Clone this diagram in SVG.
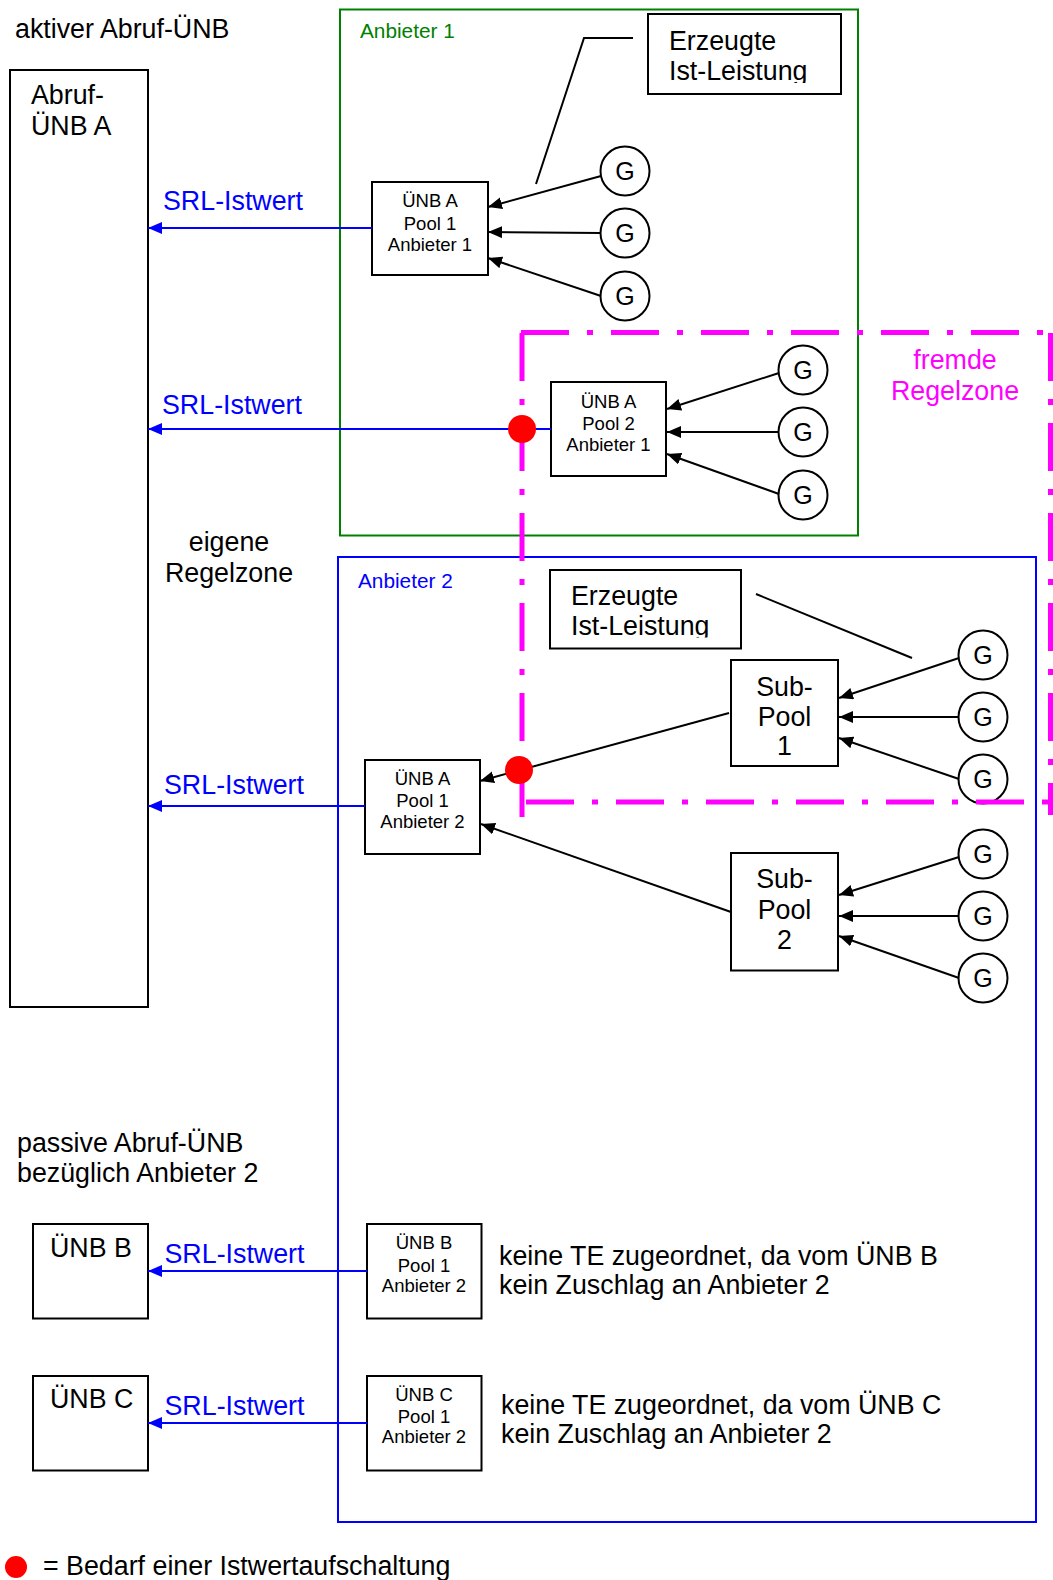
<svg xmlns="http://www.w3.org/2000/svg" width="1053" height="1580" viewBox="0 0 1053 1580">
<style>
text{font-family:"Liberation Sans",Arial,sans-serif;fill:#000}
.big{font-size:26.8px}
.sm{font-size:18.5px}
.lbl{font-size:20.8px}
.g{font-size:25px}
.mid{text-anchor:middle}
.blue{fill:#0000FF}
.box{fill:#fff;stroke:#000;stroke-width:2}
.gc{fill:#fff;stroke:#000;stroke-width:2}
.ln{stroke:#000;stroke-width:2;fill:none}
.arr{stroke:#000;stroke-width:2;fill:none;marker-end:url(#ab)}
.barr{stroke:#0000FF;stroke-width:2;fill:none;marker-end:url(#ablue)}
.mag{stroke:#FF00FF;stroke-width:5;fill:none;stroke-dasharray:48 18 6 18}
.dot{fill:#FF0000}
</style>
<defs>
<marker id="ab" markerUnits="userSpaceOnUse" markerWidth="15" markerHeight="13" refX="14" refY="6" orient="auto"><path d="M0,0 L14,6 L0,12 z" fill="#000"/></marker>
<marker id="ablue" markerUnits="userSpaceOnUse" markerWidth="15" markerHeight="13" refX="14" refY="6" orient="auto"><path d="M0,0 L14,6 L0,12 z" fill="#0000FF"/></marker>
<clipPath id="clip1"><rect x="640" y="10" width="210" height="73"/></clipPath>
<clipPath id="clip2"><rect x="545" y="565" width="200" height="72.5"/></clipPath>
</defs>

<g id="labels">
<text class="big" x="15" y="38">aktiver Abruf-ÜNB</text>
<text class="big mid" x="229" y="551">eigene</text>
<text class="big mid" x="229" y="582">Regelzone</text>
<text class="big" x="17" y="1152">passive Abruf-ÜNB</text>
<text class="big" x="17" y="1182">bezüglich Anbieter 2</text>
<text class="big" x="499" y="1265">keine TE zugeordnet, da vom ÜNB B</text>
<text class="big" x="499" y="1294">kein Zuschlag an Anbieter 2</text>
<text class="big" x="501" y="1414">keine TE zugeordnet, da vom ÜNB C</text>
<text class="big" x="501" y="1443">kein Zuschlag an Anbieter 2</text>
<text class="big" x="955" y="369" style="fill:#FF00FF;text-anchor:middle">fremde</text>
<text class="big" x="955" y="400" style="fill:#FF00FF;text-anchor:middle">Regelzone</text>
</g>

<g id="anbieter1">
<rect x="340" y="9.5" width="518" height="526" fill="none" stroke="#008000" stroke-width="2"/>
<text class="lbl" x="360" y="38" style="fill:#008000">Anbieter 1</text>
</g>
<g id="anbieter2">
<rect x="338" y="557" width="698" height="965" fill="none" stroke="#0000FF" stroke-width="2"/>
<text class="lbl blue" x="358" y="588">Anbieter 2</text>
</g>

<g id="abruf-uenb-a">
<rect class="box" x="10" y="70" width="138" height="937"/>
<text class="big" x="31" y="104">Abruf-</text>
<text class="big" x="31" y="135">ÜNB A</text>
</g>

<g id="erzeugte1">
<rect class="box" x="648" y="14" width="193" height="80"/>
<g clip-path="url(#clip1)">
<text class="big" x="669" y="50">Erzeugte</text>
<text class="big" x="669" y="80">Ist-Leistung</text>
</g>
</g>
<g id="erzeugte2">
<rect class="box" x="550" y="570" width="191" height="78.5"/>
<g clip-path="url(#clip2)">
<text class="big" x="571" y="605">Erzeugte</text>
<text class="big" x="571" y="635">Ist-Leistung</text>
</g>
</g>

<g id="pool1-anb1">
<rect class="box" x="372" y="182" width="116" height="93"/>
<text class="sm mid" x="430" y="207">ÜNB A</text>
<text class="sm mid" x="430" y="230">Pool 1</text>
<text class="sm mid" x="430" y="251">Anbieter 1</text>
</g>
<g id="pool2-anb1">
<rect class="box" x="551" y="382" width="115" height="94"/>
<text class="sm mid" x="608.5" y="408">ÜNB A</text>
<text class="sm mid" x="608.5" y="430">Pool 2</text>
<text class="sm mid" x="608.5" y="451">Anbieter 1</text>
</g>
<g id="pool1-anb2">
<rect class="box" x="365" y="760" width="115" height="94"/>
<text class="sm mid" x="422.5" y="785">ÜNB A</text>
<text class="sm mid" x="422.5" y="807">Pool 1</text>
<text class="sm mid" x="422.5" y="828">Anbieter 2</text>
</g>
<g id="subpool1">
<rect class="box" x="731" y="660" width="107" height="106"/>
<text class="big mid" x="784.5" y="696">Sub-</text>
<text class="big mid" x="784.5" y="726">Pool</text>
<text class="big mid" x="784.5" y="755">1</text>
</g>
<g id="subpool2">
<rect class="box" x="731" y="853" width="107" height="117.5"/>
<text class="big mid" x="784.5" y="888">Sub-</text>
<text class="big mid" x="784.5" y="919">Pool</text>
<text class="big mid" x="784.5" y="949">2</text>
</g>
<g id="uenb-b">
<rect class="box" x="33" y="1224" width="115" height="94.5"/>
<text class="big" x="50" y="1257">ÜNB B</text>
</g>
<g id="uenb-c">
<rect class="box" x="33" y="1376" width="115" height="94.5"/>
<text class="big" x="50" y="1408">ÜNB C</text>
</g>
<g id="pool-b">
<rect class="box" x="367" y="1224" width="114.5" height="94.5"/>
<text class="sm mid" x="424" y="1249">ÜNB B</text>
<text class="sm mid" x="424" y="1272">Pool 1</text>
<text class="sm mid" x="424" y="1292">Anbieter 2</text>
</g>
<g id="pool-c">
<rect class="box" x="367" y="1376" width="114.5" height="94.5"/>
<text class="sm mid" x="424" y="1401">ÜNB C</text>
<text class="sm mid" x="424" y="1423">Pool 1</text>
<text class="sm mid" x="424" y="1443">Anbieter 2</text>
</g>

<g id="generators">
<circle class="gc" cx="625" cy="171" r="24.5"/><text class="g mid" x="625" y="180">G</text>
<circle class="gc" cx="625" cy="233" r="24.5"/><text class="g mid" x="625" y="242">G</text>
<circle class="gc" cx="625" cy="296" r="24.5"/><text class="g mid" x="625" y="305">G</text>
<circle class="gc" cx="803" cy="370" r="24.5"/><text class="g mid" x="803" y="379">G</text>
<circle class="gc" cx="803" cy="432" r="24.5"/><text class="g mid" x="803" y="441">G</text>
<circle class="gc" cx="803" cy="495" r="24.5"/><text class="g mid" x="803" y="504">G</text>
<circle class="gc" cx="983" cy="655" r="24.5"/><text class="g mid" x="983" y="664">G</text>
<circle class="gc" cx="983" cy="717" r="24.5"/><text class="g mid" x="983" y="726">G</text>
<circle class="gc" cx="983" cy="779" r="24.5"/><text class="g mid" x="983" y="788">G</text>
<circle class="gc" cx="983" cy="854" r="24.5"/><text class="g mid" x="983" y="863">G</text>
<circle class="gc" cx="983" cy="916" r="24.5"/><text class="g mid" x="983" y="925">G</text>
<circle class="gc" cx="983" cy="978" r="24.5"/><text class="g mid" x="983" y="987">G</text>
</g>

<g id="connectors">
<polyline class="ln" points="633,38 584,38 536,184"/>
<line class="ln" x1="756" y1="594" x2="912" y2="658"/>
<line class="arr" x1="601" y1="176" x2="488" y2="207"/>
<line class="arr" x1="601" y1="233" x2="488" y2="232"/>
<line class="arr" x1="601" y1="296" x2="488" y2="258"/>
<line class="arr" x1="779" y1="373" x2="667" y2="409"/>
<line class="arr" x1="779" y1="432" x2="667" y2="432"/>
<line class="arr" x1="779" y1="494" x2="667" y2="454"/>
<line class="arr" x1="959" y1="658" x2="839" y2="698"/>
<line class="arr" x1="959" y1="717" x2="839" y2="717"/>
<line class="arr" x1="959" y1="779" x2="839" y2="738"/>
<line class="arr" x1="959" y1="857" x2="839" y2="895"/>
<line class="arr" x1="959" y1="916" x2="839" y2="916"/>
<line class="arr" x1="959" y1="978" x2="839" y2="936"/>
<line class="arr" x1="729" y1="713" x2="480" y2="781"/>
<line class="arr" x1="731" y1="912" x2="481" y2="824"/>
<line class="barr" x1="372" y1="228" x2="148" y2="228"/>
<line class="barr" x1="551" y1="429" x2="148" y2="429"/>
<line class="barr" x1="365" y1="806" x2="148" y2="806"/>
<line class="barr" x1="367" y1="1271" x2="148" y2="1271"/>
<line class="barr" x1="367" y1="1423" x2="148" y2="1423"/>
<text class="big blue" x="163" y="210">SRL-Istwert</text>
<text class="big blue" x="162" y="414">SRL-Istwert</text>
<text class="big blue" x="164" y="794">SRL-Istwert</text>
<text class="big blue" x="164.5" y="1263">SRL-Istwert</text>
<text class="big blue" x="164.5" y="1415">SRL-Istwert</text>
</g>

<g id="fremde-regelzone">
<line class="mag" x1="521" y1="332.5" x2="1053" y2="332.5"/>
<line class="mag" x1="522" y1="333" x2="522" y2="817"/>
<line class="mag" x1="526" y1="802" x2="1053" y2="802"/>
<line class="mag" x1="1050.5" y1="333" x2="1050.5" y2="815"/>
</g>

<g id="markers">
<circle class="dot" cx="522" cy="429" r="14"/>
<circle class="dot" cx="519" cy="770" r="14"/>
</g>

<g id="legend">
<circle class="dot" cx="16" cy="1567" r="11"/>
<text class="big" x="43" y="1575">= Bedarf einer Istwertaufschaltung</text>
</g>
</svg>
